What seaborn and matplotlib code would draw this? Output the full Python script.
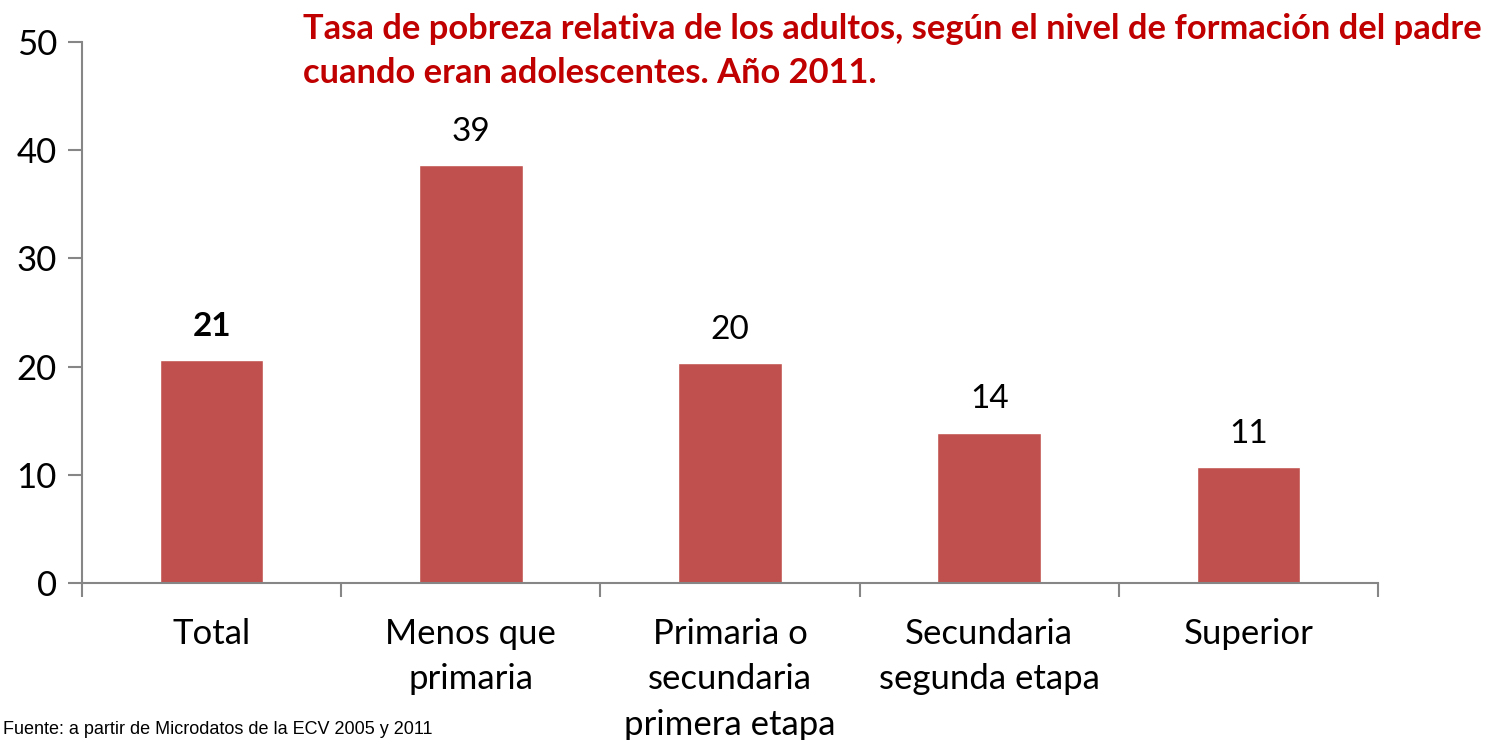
import matplotlib
matplotlib.use('Agg')
import matplotlib.pyplot as plt
import seaborn as sns
import pandas as pd

# data
categorias = ['Total', 'Menos que\nprimaria', 'Primaria o\nsecundaria\nprimera etapa',
              'Secundaria\nsegunda etapa', 'Superior']
tasa = [20.6, 38.6, 20.3, 13.9, 10.7]
titulo = ('Tasa de pobreza relativa de los adultos, según el nivel de formación del padre\n'
          'cuando eran adolescentes. Año 2011.')
fuente = 'Fuente: a partir de Microdatos de la ECV 2005 y 2011'

sns.set_style('white')
plt.rcParams['font.family'] = ['Lato', 'DejaVu Sans']
plt.rcParams['text.color'] = 'black'
plt.rcParams['xtick.labelcolor'] = 'black'
plt.rcParams['ytick.labelcolor'] = 'black'

df = pd.DataFrame({'nivel': categorias, 'tasa': tasa})

fig = plt.figure(figsize=(14.99, 7.4), dpi=100)
ax = fig.add_axes([0.0547, 0.2122, 0.8646, 0.7310])

sns.barplot(data=df, x='nivel', y='tasa', color='#C0504D', width=0.4,
            saturation=1, ax=ax)

ax.set_ylim(0, 50)
ax.set_xlim(-0.5, len(categorias) - 0.5)
ax.set_yticks(range(0, 51, 10))
ax.set_xlabel('')
ax.set_ylabel('')

gris = '#868686'
for lado in ['top', 'right']:
    ax.spines[lado].set_visible(False)
for lado in ['left', 'bottom']:
    ax.spines[lado].set_color(gris)
    ax.spines[lado].set_linewidth(1.5)

# y ticks outward on the left
ax.tick_params(axis='y', direction='out', length=10, width=1.5, color=gris,
               labelsize=25, pad=8, left=True)
# x ticks at category boundaries, labels centred under the bars
ax.set_xticks([i - 0.5 for i in range(len(categorias) + 1)], minor=True)
ax.tick_params(axis='x', which='minor', direction='out', length=10, width=1.5,
               color=gris, bottom=True)
ax.tick_params(axis='x', which='major', length=0, labelsize=25, pad=25)
for lbl in ax.get_xticklabels():
    lbl.set_linespacing(1.53)

for i, v in enumerate(tasa):
    ax.annotate(f'{v:.0f}', (i, v), xytext=(0, 24), textcoords='offset points',
                ha='center', va='center', fontsize=24, color='black',
                fontweight='bold' if i == 0 else 'normal')

fig.text(303 / 1499, 1 - 13 / 740, titulo, color='#C00000', fontsize=24.8,
         fontweight='bold', ha='left', va='top', linespacing=1.45)

fig.text(3 / 1499, 2 / 740, fuente, fontsize=13, ha='left', va='bottom',
         family=['Liberation Sans', 'DejaVu Sans'])

fig.savefig('out.png', dpi=100)
